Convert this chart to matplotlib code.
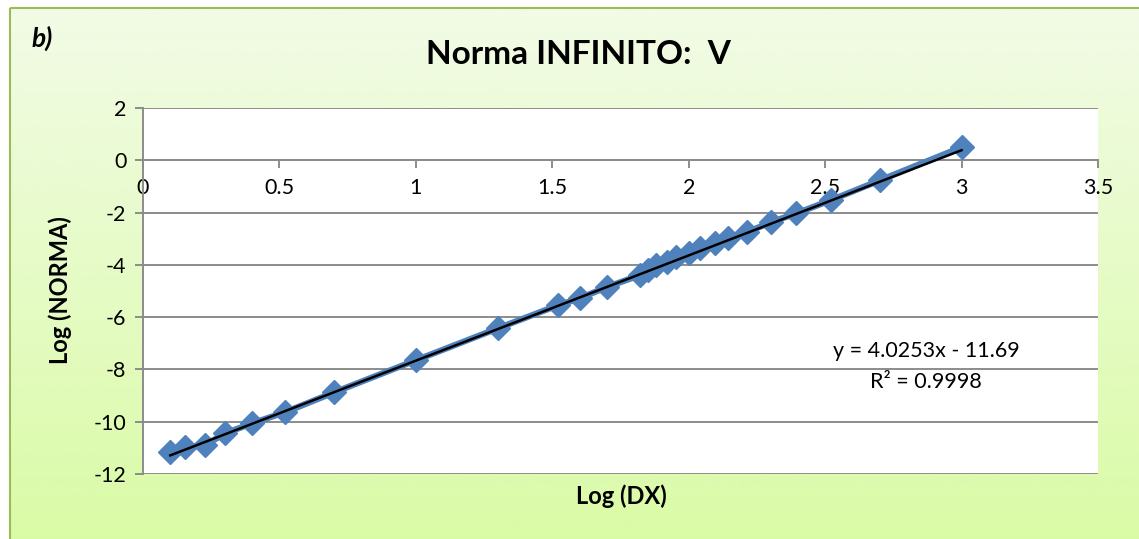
import numpy as np
import matplotlib.pyplot as plt
from matplotlib.patches import Rectangle

# Log of step size vs log of infinity norm
log_dx = [0.10, 0.155, 0.227, 0.30, 0.40, 0.52, 0.70, 1.00, 1.30, 1.52, 1.60, 1.70,
          1.82, 1.85, 1.88, 1.92, 1.955, 2.00, 2.04, 2.095, 2.145, 2.215, 2.30,
          2.395, 2.52, 2.70, 3.00]
log_norma = [-11.17, -10.98, -10.90, -10.45, -10.06, -9.64, -8.88, -7.65, -6.43,
             -5.55, -5.28, -4.85, -4.40, -4.20, -4.02, -3.90, -3.71, -3.56, -3.37,
             -3.18, -2.98, -2.75, -2.37, -2.03, -1.53, -0.77, 0.50]

# linear trendline
slope = 4.0253
intercept = -11.69
r2 = 0.9998

x_ticks = [0, 0.5, 1, 1.5, 2, 2.5, 3, 3.5]
y_ticks = [2, 0, -2, -4, -6, -8, -10, -12]

plt.rcParams['font.family'] = ['Lato', 'DejaVu Sans']

W, H = 1139, 539
fig = plt.figure(figsize=(W / 100, H / 100), dpi=100)
fig.patch.set_facecolor('white')

# green gradient chart background with border
bg = fig.add_axes([0, 0, 1, 1], zorder=-2)
bg.set_xlim(0, W)
bg.set_ylim(H, 0)
bg.axis('off')
top = np.array([242, 251, 230]) / 255
bot = np.array([218, 251, 166]) / 255
t = np.linspace(0, 1, 256)[:, None]
grad = (top * (1 - t) + bot * t)[:, None, :]
bg.imshow(grad, extent=[10, W + 5, H + 5, 8], aspect='auto', zorder=0)
bg.add_patch(Rectangle((10, 8), W, H, fill=False, edgecolor='#9BBB59', linewidth=1.5, zorder=1))

ax = fig.add_axes([143 / W, 1 - 474 / H, (1098 - 143) / W, (474 - 108) / H])
ax.set_facecolor('white')
ax.set_xlim(0, 3.5)
ax.set_ylim(-12, 2)
ax.set_xticks(x_ticks)
ax.set_xticklabels(['0', '0.5', '1', '1.5', '2', '2.5', '3', '3.5'])
ax.set_yticks(y_ticks)
ax.set_yticklabels([str(v) for v in y_ticks])

ax.yaxis.grid(True, color='#8C8C8C', linewidth=1.4, zorder=0)
ax.set_axisbelow(True)
for s in ['top', 'right']:
    ax.spines[s].set_visible(False)
ax.spines['bottom'].set_position(('data', 0))
ax.spines['bottom'].set_color('#8C8C8C')
ax.spines['bottom'].set_linewidth(1.4)
ax.spines['left'].set_color('#8C8C8C')
ax.spines['left'].set_linewidth(1.4)
ax.tick_params(axis='both', colors='#8C8C8C', labelcolor='black', labelsize=15.5,
               direction='out', length=6, width=1.4)
ax.tick_params(axis='x', pad=7)
ax.tick_params(axis='y', pad=6)

ax.plot(log_dx, log_norma, color='#4F81BD', linewidth=4.5, marker='D',
        markersize=12, markerfacecolor='#4F81BD', markeredgecolor='#4F81BD', zorder=3)

xs = np.array([min(log_dx), max(log_dx)])
ax.plot(xs, slope * xs + intercept, color='black', linewidth=1.8, zorder=4)

ax.text(2.87, -7.3, f'y = {slope}x - {abs(intercept)}', fontsize=15.5, ha='center', va='center')
ax.text(2.87, -8.5, f'R² = {r2}', fontsize=15.5, ha='center', va='center')

fig.text(578 / W, 1 - 55 / H, 'Norma INFINITO:  V', fontsize=24, fontweight='bold',
         ha='center', va='center')
fig.text(42 / W, 1 - 38 / H, 'b)', fontsize=19, fontweight='bold', style='italic',
         ha='center', va='center')
fig.text(621 / W, 1 - 496 / H, 'Log (DX)', fontsize=17, fontweight='bold',
         ha='center', va='center')
fig.text(60 / W, 1 - 290 / H, 'Log (NORMA)', fontsize=17, fontweight='bold',
         rotation=90, ha='center', va='center')

fig.savefig('out.png', dpi=100)
